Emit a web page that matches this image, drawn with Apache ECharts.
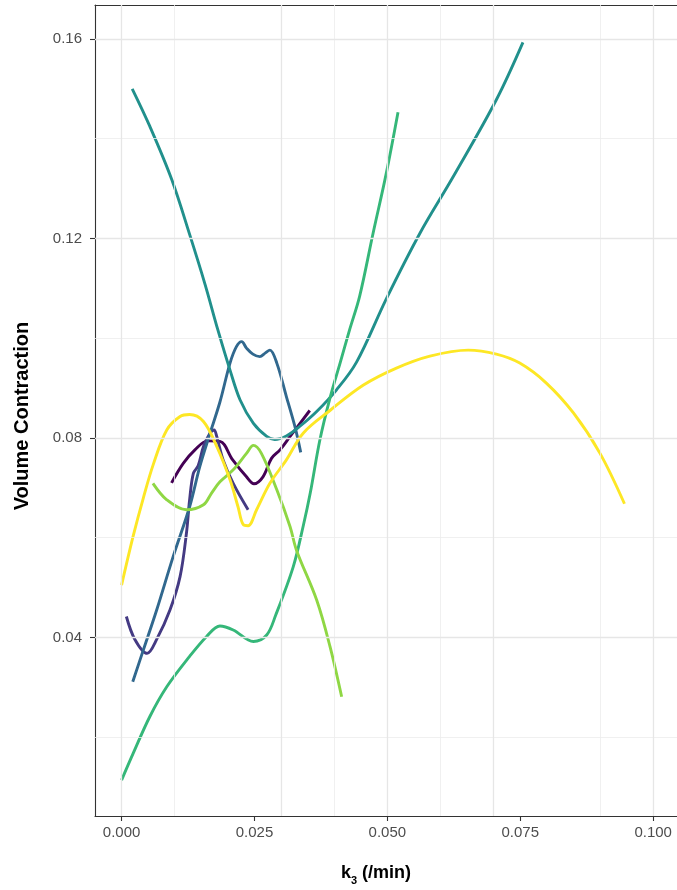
<!DOCTYPE html>
<html>
<head>
<meta charset="utf-8">
<script src="https://cdn.jsdelivr.net/npm/echarts@6/dist/echarts.min.js"></script>
<style>
html,body{margin:0;padding:0;background:#fff;}
#chart{width:677px;height:890px;}
</style>
</head>
<body>
<div id="chart"></div>
<script>
// Tick values
const xTicks = [0, 0.025, 0.05, 0.075, 0.1];
const xMinor = [0.0125, 0.0375, 0.0625, 0.0875];
const yTicks = [0.04, 0.08, 0.12, 0.16];
const yMinor = [0.02, 0.06, 0.10, 0.14];

// Series data: [k3, volume contraction]
const s1 = [[0.0094,0.0710],[0.0116,0.0749],[0.0138,0.0776],[0.0162,0.0794],[0.0185,0.0793],[0.0209,0.0756],[0.0235,0.0722],[0.0249,0.0708],[0.0266,0.0722],[0.0282,0.0759],[0.0298,0.0776],[0.0317,0.0803],[0.0354,0.0855]];
const s2 = [[0.0009,0.0442],[0.0025,0.0396],[0.0048,0.0368],[0.0066,0.0396],[0.0091,0.0455],[0.0110,0.0522],[0.0122,0.0609],[0.0128,0.0676],[0.0135,0.0729],[0.0144,0.0744],[0.0154,0.0783],[0.0166,0.0809],[0.0174,0.0816],[0.0179,0.0803],[0.0191,0.0756],[0.0210,0.0709],[0.0238,0.0656]];
const s3 = [[0.0021,0.0311],[0.0041,0.0375],[0.0066,0.0455],[0.0097,0.0562],[0.0128,0.0662],[0.0147,0.0742],[0.0166,0.0808],[0.0185,0.0872],[0.0204,0.0950],[0.0216,0.0983],[0.0226,0.0993],[0.0235,0.0980],[0.0247,0.0968],[0.0260,0.0963],[0.0270,0.0970],[0.0279,0.0976],[0.0292,0.0950],[0.0310,0.0883],[0.0326,0.0823],[0.0337,0.0771]];
const s4 = [[0.0020,0.1500],[0.0053,0.1425],[0.0094,0.1319],[0.0128,0.1208],[0.0157,0.1108],[0.0181,0.1017],[0.0204,0.0936],[0.0223,0.0876],[0.0248,0.0829],[0.0273,0.0803],[0.0288,0.0797],[0.0310,0.0804],[0.0335,0.0823],[0.0367,0.0853],[0.0404,0.0896],[0.0442,0.0952],[0.0498,0.1079],[0.0561,0.1210],[0.0624,0.1324],[0.0705,0.1478],[0.0755,0.1593]];
const s5 = [[0.0000,0.0114],[0.0022,0.0168],[0.0053,0.0241],[0.0085,0.0301],[0.0128,0.0362],[0.0160,0.0402],[0.0185,0.0423],[0.0210,0.0415],[0.0248,0.0392],[0.0273,0.0405],[0.0290,0.0445],[0.0323,0.0542],[0.0342,0.0625],[0.0355,0.0690],[0.0373,0.0796],[0.0392,0.0880],[0.0411,0.0950],[0.0429,0.1017],[0.0448,0.1085],[0.0473,0.1210],[0.0498,0.1331],[0.0520,0.1453]];
const s6 = [[0.0059,0.0709],[0.0085,0.0676],[0.0122,0.0656],[0.0154,0.0666],[0.0169,0.0689],[0.0185,0.0712],[0.0210,0.0736],[0.0235,0.0769],[0.0248,0.0785],[0.0263,0.0769],[0.0292,0.0696],[0.0317,0.0622],[0.0329,0.0575],[0.0367,0.0475],[0.0392,0.0382],[0.0414,0.0281]];
const s7 = [[0.0000,0.0505],[0.0022,0.0604],[0.0041,0.0680],[0.0060,0.0748],[0.0085,0.0816],[0.0110,0.0843],[0.0128,0.0847],[0.0154,0.0833],[0.0179,0.0783],[0.0204,0.0716],[0.0219,0.0662],[0.0229,0.0626],[0.0238,0.0624],[0.0254,0.0656],[0.0279,0.0709],[0.0310,0.0756],[0.0342,0.0810],[0.0392,0.0855],[0.0455,0.0906],[0.0517,0.0940],[0.0580,0.0964],[0.0652,0.0976],[0.0705,0.0968],[0.0749,0.0950],[0.0799,0.0910],[0.0850,0.0850],[0.0900,0.0769],[0.0946,0.0668]];

const seriesData = [s1, s2, s3, s4, s5, s6, s7];
const colors = ['#440154', '#443A83', '#31688E', '#21908C', '#35B779', '#8FD744', '#FDE725'];

const chart = echarts.init(document.getElementById('chart'), null, {renderer: 'canvas'});

const gridLines = [];
xMinor.forEach(v => gridLines.push({xAxis: v, lineStyle: {color: '#ececec', width: 0.8, type: 'solid'}}));
yMinor.forEach(v => gridLines.push({yAxis: v, lineStyle: {color: '#ececec', width: 0.8, type: 'solid'}}));
xTicks.forEach(v => gridLines.push({xAxis: v, lineStyle: {color: '#e6e6e6', width: 1.3, type: 'solid'}}));
yTicks.forEach(v => gridLines.push({yAxis: v, lineStyle: {color: '#e6e6e6', width: 1.3, type: 'solid'}}));

const series = [{
  type: 'line', data: [], z: 1, silent: true,
  markLine: {symbol: ['none', 'none'], silent: true, animation: false, label: {show: false}, emphasis: {disabled: true}, data: gridLines}
}];
seriesData.forEach((d, i) => {
  series.push({
    name: String(i + 1), type: 'line', data: d, smooth: 0.35, showSymbol: false, z: 2,
    lineStyle: {color: colors[i], width: 2.9}, itemStyle: {color: colors[i]}
  });
});

const font = '"Liberation Sans", Arial, sans-serif';
const xMin = -0.005;
const xMax = -0.005 + 582 / 5316;

chart.setOption({
  animation: false,
  backgroundColor: '#fff',
  grid: {left: 95, top: 5, width: 582, height: 811, show: false},
  xAxis: [{
    type: 'value', min: xMin, max: xMax,
    axisLine: {show: true, onZero: false, lineStyle: {color: '#333', width: 1.1}},
    axisTick: {show: true, length: 5, customValues: xTicks, lineStyle: {color: '#333', width: 1.1}},
    axisLabel: {customValues: xTicks, margin: 9, color: '#4d4d4d', fontSize: 15, fontFamily: font, formatter: v => v.toFixed(3)},
    splitLine: {show: false}
  }, {
    type: 'value', position: 'top', min: xMin, max: xMax,
    axisLine: {show: true, onZero: false, lineStyle: {color: '#333', width: 1.1}},
    axisTick: {show: false}, axisLabel: {show: false}, splitLine: {show: false}
  }],
  yAxis: {
    type: 'value', min: 0.0042, max: 0.1668,
    axisLine: {show: true, onZero: false, lineStyle: {color: '#333', width: 1.1}},
    axisTick: {show: true, length: 5, customValues: yTicks, lineStyle: {color: '#333', width: 1.1}},
    axisLabel: {customValues: yTicks, margin: 13, color: '#4d4d4d', fontSize: 15, fontFamily: font, formatter: v => v.toFixed(2)},
    splitLine: {show: false}
  },
  graphic: [
    {type: 'text', x: 376, y: 873, style: {
      text: '{b|k}{s|3}{b| (/min)}', textAlign: 'center', textVerticalAlign: 'middle',
      rich: {b: {fontFamily: font, fontWeight: 'bold', fontSize: 18, fill: '#000', verticalAlign: 'bottom'},
             s: {fontFamily: font, fontWeight: 'bold', fontSize: 11, fill: '#000', verticalAlign: 'bottom', padding: [0, 0, -4, 0]}}
    }},
    {type: 'text', x: 22, y: 416, rotation: Math.PI / 2, style: {
      text: 'Volume Contraction', textAlign: 'center', textVerticalAlign: 'middle',
      fontFamily: font, fontWeight: 'bold', fontSize: 20, fill: '#000'
    }}
  ],
  series: series
});
</script>
</body>
</html>
